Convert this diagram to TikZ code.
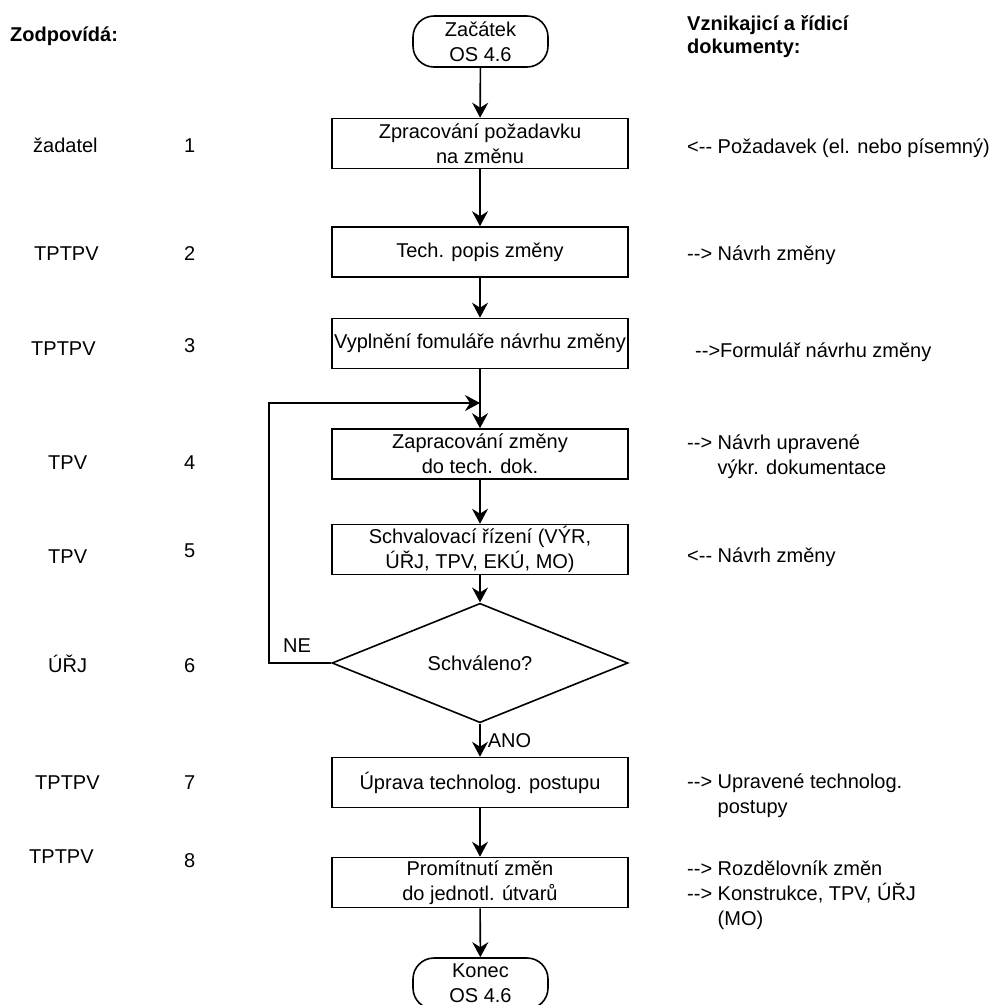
\documentclass[tikz,border=0pt]{standalone}
\usepackage{fontspec}
\newfontfamily\lab{Liberation Sans}
\usetikzlibrary{shapes.geometric,arrows.meta}
\begin{document}
\begin{tikzpicture}[x=1pt,y=-1pt,
  every node/.style={font=\lab\fontsize{20}{25}\selectfont, inner sep=0pt},
  proc/.style={draw, line width=1.6pt, rectangle, minimum width=296pt, minimum height=50pt, align=center},
  term/.style={draw, line width=1.6pt, rectangle, rounded corners=21pt, minimum width=135pt, minimum height=51pt, align=center},
  decis/.style={draw, line width=1.6pt, diamond, minimum width=296pt, minimum height=86pt},
  txt/.style={anchor=base west, align=left},
  head/.style={anchor=base west, align=left, font=\lab\bfseries\fontsize{20}{23}\selectfont},
  flow/.style={line width=1.6pt, -{Stealth[length=15pt,width=16pt,inset=5pt]}},
]
\useasboundingbox (0,0) rectangle (991,1005);
\clip (0,0) rectangle (991,1005);

% flow chart
\node[term] (start) at (480.5,41.5) {Začátek\\OS 4.6};
\node[proc] (b1) at (480,143.5) {Zpracování požadavku\\na změnu};
\node[proc] (b2) at (480,252) {Tech. popis změny};
\node[proc] (b3) at (480,343.5) {Vyplnění fomuláře návrhu změny};
\node[proc] (b4) at (480,454) {Zapracování změny\\do tech. dok.};
\node[proc] (b5) at (480,549.5) {Schvalovací řízení (VÝR,\\ÚŘJ, TPV, EKÚ, MO)};
\node[decis] (dec) at (480,663) {Schváleno?};
\node[proc] (b7) at (480,782.5) {Úprava technolog. postupu};
\node[proc] (b8) at (480,882.5) {Promítnutí změn\\do jednotl. útvarů};
\node[term] (end) at (480.5,983.5) {Konec\\OS 4.6};

% corners of the return loop
\coordinate (loopA) at (269,663);
\coordinate (loopB) at (269,403);
\coordinate (merge) at (480,403);

\draw[flow] (start) -- (b1);
\draw[flow] (b1) -- (b2);
\draw[flow] (b2) -- (b3);
\draw[flow] (b3) -- (b4);
\draw[flow] (b4) -- (b5);
\draw[flow] (b5) -- (dec);
\draw[flow] (dec) -- node[midway, anchor=base west, xshift=7pt, yshift=-7pt] {ANO} (b7);
\draw[flow] (b7) -- (b8);
\draw[flow] (b8) -- (end);
\draw[flow] (dec.west) -- node[pos=0.55, anchor=base, yshift=11pt] {NE} (loopA) -- (loopB) -- (merge);

% responsibility column
\node[head] (hl) at (10,41) {Zodpovídá:};
\node[txt] (w1) at (33,152) {žadatel};
\node[txt] (n1) at (184,152) {1};
\node[txt] (w2) at (34,260) {TPTPV};
\node[txt] (n2) at (184,260) {2};
\node[txt] (w3) at (31,355) {TPTPV};
\node[txt] (n3) at (184,352) {3};
\node[txt] (w4) at (48,469) {TPV};
\node[txt] (n4) at (184,469) {4};
\node[txt] (w5) at (48,563) {TPV};
\node[txt] (n5) at (184,557) {5};
\node[txt] (w6) at (48,672) {ÚŘJ};
\node[txt] (n6) at (184,672) {6};
\node[txt] (w7) at (35,789) {TPTPV};
\node[txt] (n7) at (184,789) {7};
\node[txt] (w8) at (29,863) {TPTPV};
\node[txt] (n8) at (184,867) {8};

% documents column (multi-line nodes sit on the baseline of their last line)
\node[head] (hr) at (687,53) {Vznikajicí a řídicí\\dokumenty:};
\node[txt] (d1) at (687,153) {<-- Požadavek (el. nebo písemný)};
\node[txt] (d2) at (687,260) {--> Návrh změny};
\node[txt] (d3) at (695,357) {-->Formulář návrhu změny};
\node[txt] (d4) at (687,474) {--> Návrh upravené\\\hspace*{30.5pt}výkr. dokumentace};
\node[txt] (d5) at (687,562) {<-- Návrh změny};
\node[txt] (d7) at (687,813) {--> Upravené technolog.\\\hspace*{30.5pt}postupy};
\node[txt] (d8) at (687,925) {--> Rozdělovník změn\\--> Konstrukce, TPV, ÚŘJ\\\hspace*{30.5pt}(MO)};
\end{tikzpicture}
\end{document}
